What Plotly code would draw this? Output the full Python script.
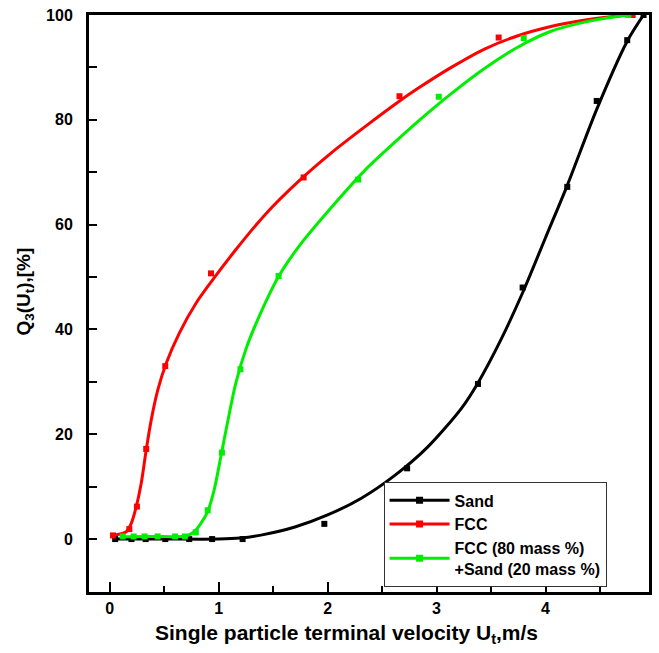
import plotly.graph_objects as go

# measured points
sand_x = [0.05, 0.2, 0.33, 0.51, 0.73, 0.94, 1.22, 1.97, 2.73, 3.38, 3.79, 4.2, 4.47, 4.75, 4.9]
sand_y = [0.0, 0.0, 0.0, 0.0, 0.0, 0.0, 0.0, 2.9, 13.5, 29.6, 48.0, 67.2, 83.6, 95.2, 100.0]
fcc_x = [0.03, 0.18, 0.25, 0.335, 0.51, 0.93, 1.78, 2.66, 3.57, 4.8]
fcc_y = [0.7, 1.9, 6.2, 17.2, 33.0, 50.7, 69.0, 84.5, 95.7, 100.0]
mix_x = [0.12, 0.22, 0.32, 0.44, 0.6, 0.69, 0.79, 0.9, 1.03, 1.2, 1.55, 2.28, 3.02, 3.8, 4.76]
mix_y = [0.5, 0.5, 0.5, 0.5, 0.5, 0.5, 1.3, 5.5, 16.5, 32.4, 50.2, 68.6, 84.4, 95.6, 100.0]

# fitted curves
sand_fx = [0.05, 0.5, 1.0, 1.2, 1.4, 1.7, 2.0, 2.31, 2.62, 2.92, 3.23, 3.38, 3.59, 3.79,
           4.0, 4.2, 4.47, 4.75, 4.9]
sand_fy = [0.0, 0.0, 0.0, 0.2, 0.8, 2.3, 4.6, 7.8, 12.2, 17.6, 25.0, 29.8, 38.0, 47.0,
           57.5, 67.5, 82.0, 95.0, 100.0]
fcc_fx = [0.05, 0.152, 0.198, 0.244, 0.289, 0.335, 0.381, 0.441, 0.518, 0.639, 0.792, 0.943,
          1.157, 1.43, 1.735, 2.04, 2.344, 2.648, 2.83, 3.135, 3.44, 3.74, 4.05, 4.35, 4.66, 4.76]
fcc_fy = [0.8, 1.4, 3.0, 6.2, 10.6, 17.0, 22.7, 28.4, 33.5, 39.3, 45.0, 49.4,
          55.2, 62.0, 68.3, 73.8, 78.7, 83.4, 86.0, 90.0, 93.5, 96.0, 97.8, 99.0, 99.8, 100.0]
mix_fx = [0.137, 0.4, 0.70, 0.776, 0.837, 0.898, 0.959, 1.02, 1.08, 1.157, 1.248, 1.37, 1.55,
          1.735, 2.04, 2.344, 2.648, 2.83, 3.135, 3.44, 3.74, 4.05, 4.35, 4.66, 4.78]
mix_fy = [0.45, 0.5, 0.6, 1.4, 3.0, 5.2, 9.4, 15.7, 22.1, 29.7, 36.1, 42.4, 50.1,
          55.8, 63.4, 70.4, 76.3, 79.7, 85.0, 89.8, 93.8, 96.9, 98.6, 99.7, 100.0]

names = ["<b>Sand</b>", "<b>FCC</b>", "<b>FCC (80 mass %)</b><br><b>+Sand (20 mass %)</b>"]
colors = ["#000000", "#ff0000", "#00ee00"]

fig = go.Figure()
series = [(sand_x, sand_y, sand_fx, sand_fy), (fcc_x, fcc_y, fcc_fx, fcc_fy),
          (mix_x, mix_y, mix_fx, mix_fy)]
for (px, py, fx, fy), nm, c in zip(series, names, colors):
    fig.add_trace(go.Scatter(x=fx, y=fy, mode="lines",
                             line=dict(color=c, width=3, shape="spline", smoothing=0.8),
                             showlegend=False, hoverinfo="skip"))
    fig.add_trace(go.Scatter(x=px, y=py, mode="markers",
                             marker=dict(symbol="square", size=6, color=c),
                             showlegend=False))
    fig.add_trace(go.Scatter(x=[None], y=[None], mode="lines+markers", name=nm,
                             line=dict(color=c, width=3),
                             marker=dict(symbol="square", size=7, color=c)))

font_family = "Liberation Sans, Arial, sans-serif"
fig.update_layout(
    width=659, height=653,
    margin=dict(l=89, r=7, t=15, b=61),
    paper_bgcolor="white", plot_bgcolor="white",
    font=dict(family=font_family, color="black"),
    legend=dict(x=0.526, y=0.19, xanchor="left", yanchor="top",
                bgcolor="white", bordercolor="#333333", borderwidth=1,
                font=dict(size=16, family=font_family, color="black"),
                tracegroupgap=0, itemwidth=60),
    annotations=[
        dict(text="<b>Single particle terminal velocity U<sub>t</sub>,m/s</b>",
             xref="paper", yref="paper", x=0.46, y=-0.073, xanchor="center", yanchor="middle",
             showarrow=False, font=dict(size=21, family=font_family, color="black")),
        dict(text="<b>Q<sub>3</sub>(U<sub>t</sub>),[%]</b>", textangle=-90,
             xref="paper", yref="paper", x=-0.115, y=0.52, xanchor="center", yanchor="middle",
             showarrow=False, font=dict(size=19, family=font_family, color="black")),
    ],
)
fig.update_xaxes(
    range=[-0.19, 4.95], dtick=1, tick0=0,
    showline=True, linecolor="black", linewidth=3, mirror=True,
    ticks="inside", ticklen=10, tickwidth=2, tickcolor="black",
    minor=dict(ticks="inside", ticklen=6, tickwidth=2, dtick=0.5, tickcolor="black"),
    showgrid=False, zeroline=False,
    tickfont=dict(size=16, family=font_family),
    tickprefix="<b>", ticksuffix="</b>",
)
fig.update_yaxes(
    range=[-10.1, 100], dtick=20, tick0=0,
    showline=True, linecolor="black", linewidth=3, mirror=True,
    ticks="inside", ticklen=8, tickwidth=2, tickcolor="black",
    minor=dict(ticks="inside", ticklen=8, tickwidth=2, dtick=10, tickcolor="black"),
    showgrid=False, zeroline=False,
    tickfont=dict(size=16, family=font_family),
    tickprefix="<b>", ticksuffix="</b>",
    ticklabelstandoff=10,
)
fig.write_html("out.html")
